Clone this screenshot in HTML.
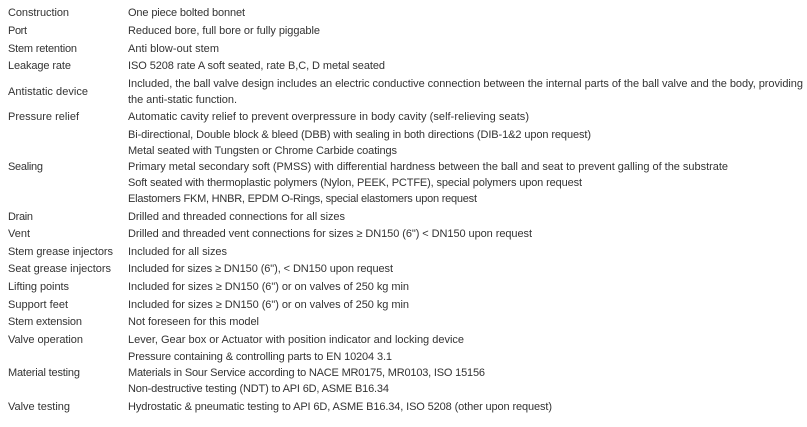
<!DOCTYPE html>
<html><head><meta charset="utf-8">
<style>
html,body{margin:0;padding:0;background:#fff;width:807px;height:427px;overflow:hidden}
svg{position:absolute;left:0;top:0;display:block}
text{font:11px "Liberation Sans",Arial,sans-serif;fill:#333}
</style></head><body>
<svg width="807" height="427" viewBox="0 0 807 427" xmlns="http://www.w3.org/2000/svg">
<text x="8" y="16" textLength="61">Construction</text><text x="128" y="16" textLength="117">One piece bolted bonnet</text>
<text x="8" y="34" textLength="19">Port</text><text x="128" y="34" textLength="192">Reduced bore, full bore or fully piggable</text>
<text x="8" y="52" textLength="69">Stem retention</text><text x="128" y="52" textLength="91">Anti blow-out stem</text>
<text x="8" y="69" textLength="63">Leakage rate</text><text x="128" y="69" textLength="257">ISO 5208 rate A soft seated, rate B,C, D metal seated</text>
<text x="8" y="95" textLength="80">Antistatic device</text><text x="128" y="87" textLength="675">Included, the ball valve design includes an electric conductive connection between the internal parts of the ball valve and the body, providing</text>
<text x="128" y="103" textLength="109">the anti-static function.</text>
<text x="8" y="120" textLength="71">Pressure relief</text><text x="128" y="120" textLength="401">Automatic cavity relief to prevent overpressure in body cavity (self-relieving seats)</text>
<text x="128" y="138" textLength="463">Bi-directional, Double block &amp; bleed (DBB) with sealing in both directions (DIB-1&amp;2 upon request)</text>
<text x="128" y="154" textLength="269">Metal seated with Tungsten or Chrome Carbide coatings</text>
<text x="8" y="170" textLength="35">Sealing</text><text x="128" y="170" textLength="600">Primary metal secondary soft (PMSS) with differential hardness between the ball and seat to prevent galling of the substrate</text>
<text x="128" y="186" textLength="454">Soft seated with thermoplastic polymers (Nylon, PEEK, PCTFE), special polymers upon request</text>
<text x="128" y="202" textLength="349">Elastomers FKM, HNBR, EPDM O-Rings, special elastomers upon request</text>
<text x="8" y="220" textLength="25">Drain</text><text x="128" y="220" textLength="217">Drilled and threaded connections for all sizes</text>
<text x="8" y="237" textLength="22">Vent</text><text x="128" y="237" textLength="404">Drilled and threaded vent connections for sizes ≥ DN150 (6") &lt; DN150 upon request</text>
<text x="8" y="255" textLength="105">Stem grease injectors</text><text x="128" y="255" textLength="99">Included for all sizes</text>
<text x="8" y="272" textLength="103">Seat grease injectors</text><text x="128" y="272" textLength="265">Included for sizes ≥ DN150 (6"), &lt; DN150 upon request</text>
<text x="8" y="290" textLength="61">Lifting points</text><text x="128" y="290" textLength="281">Included for sizes ≥ DN150 (6") or on valves of 250 kg min</text>
<text x="8" y="308" textLength="60">Support feet</text><text x="128" y="308" textLength="281">Included for sizes ≥ DN150 (6") or on valves of 250 kg min</text>
<text x="8" y="325" textLength="74">Stem extension</text><text x="128" y="325" textLength="131">Not foreseen for this model</text>
<text x="8" y="343" textLength="75">Valve operation</text><text x="128" y="343" textLength="336">Lever, Gear box or Actuator with position indicator and locking device</text>
<text x="128" y="360" textLength="264">Pressure containing &amp; controlling parts to EN 10204 3.1</text>
<text x="8" y="376" textLength="72">Material testing</text><text x="128" y="376" textLength="357">Materials in Sour Service according to NACE MR0175, MR0103, ISO 15156</text>
<text x="128" y="392" textLength="261">Non-destructive testing (NDT) to API 6D, ASME B16.34</text>
<text x="8" y="410" textLength="62">Valve testing</text><text x="128" y="410" textLength="424">Hydrostatic &amp; pneumatic testing to API 6D, ASME B16.34, ISO 5208 (other upon request)</text>
</svg>
</body></html>
